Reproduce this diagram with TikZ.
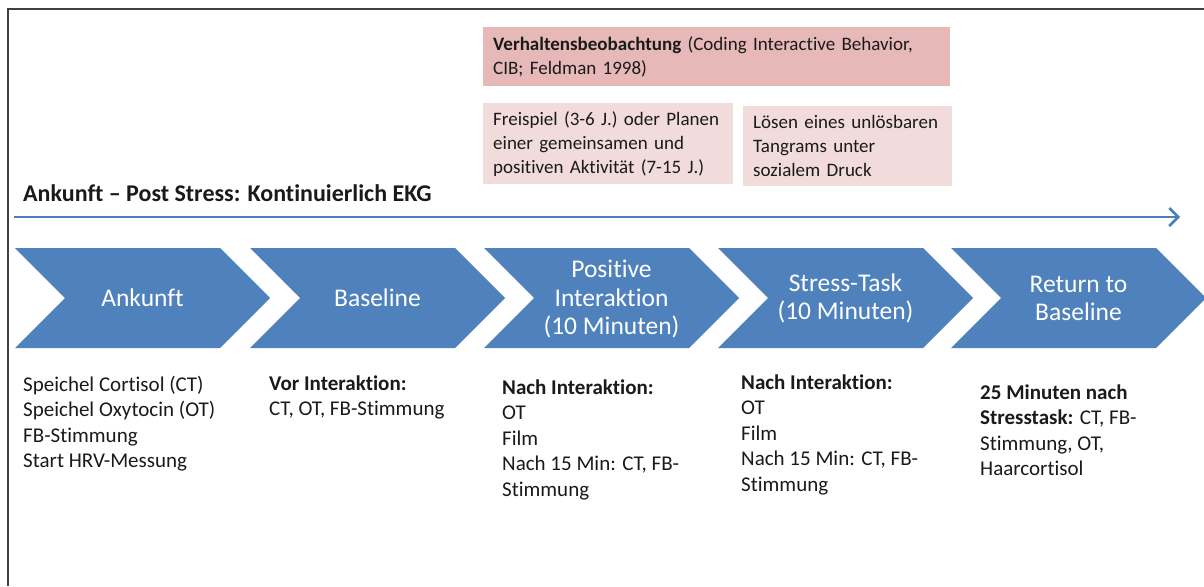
\documentclass[tikz,border=0pt]{standalone}
\usepackage{fontspec}
\setmainfont{Carlito}[RawFeature={-liga}]
\usetikzlibrary{arrows.meta}
\definecolor{chev}{HTML}{4F81BD}
\definecolor{arr}{HTML}{4A7EBB}
\definecolor{pinkA}{HTML}{E6B9B8}
\definecolor{pinkB}{HTML}{F2DCDB}
\definecolor{framec}{HTML}{404040}
\definecolor{txt}{HTML}{1A1A1A}
\begin{document}
\begin{tikzpicture}[x=1pt,y=-1pt,
  chevtext/.style={text=white, align=center, inner sep=0, font=\fontsize{25.5}{28.5}\selectfont},
  boxtext/.style={align=left, inner xsep=10, inner ysep=0, anchor=north west, text=txt, font=\fontsize{19}{24}\selectfont},
  coltext/.style={align=left, inner sep=0, anchor=north west, text=txt, font=\fontsize{21}{25.5}\selectfont}
]
\useasboundingbox (0,0) rectangle (1204,586);
\fill[white] (0,0) rectangle (1204,586);
\draw[framec, line width=2.5] (1204,9) -- (8,9) -- (8,586);

% chevrons
\foreach \L in {15,250,484,718,951}
  \fill[chev] (\L,248) -- ++(205,0) -- ++(50,50) -- ++(-50,50) -- ++(-205,0) -- ++(50,-50) -- cycle;
\node[chevtext] (c1) at (142.5,298) {Ankunft};
\node[chevtext] (c2) at (377.5,298) {Baseline};
\node[chevtext] (c3) at (611.5,299) {Positive\\Interaktion\\(10 Minuten)};
\node[chevtext] (c4) at (845.5,298.5) {Stress-Task\\(10 Minuten)};
\node[chevtext] (c5) at (1078.5,298.5) {Return to\\Baseline};

% title and arrow
\node[anchor=base west, inner sep=0, text=txt, font=\fontsize{24}{28}\selectfont\bfseries] (title) at (23,201) {Ankunft – Post Stress: Kontinuierlich EKG};
\coordinate (as) at (14,217);
\coordinate (ae) at (1180,217);
\draw[arr, line width=2.5, -{Straight Barb[length=9,width=18]}] (as) -- (ae);

% boxes
\node[boxtext, fill=pinkA, text width=447, minimum height=59] (cib) at (483,27)
  {\textbf{Verhaltensbeobachtung} (Coding Interactive Behavior,\\CIB; Feldman 1998)};
\node[boxtext, fill=pinkB, text width=230, minimum height=81] (frei) at (483,103)
  {Freispiel (3-6 J.) oder Planen\\einer gemeinsamen und\\positiven Aktivität (7-15 J.)};
\node[boxtext, fill=pinkB, text width=189, minimum height=80] (tang) at (743,106)
  {Lösen eines unlösbaren\\Tangrams unter\\sozialem Druck};

% columns
\node[coltext] (t1) at (23,373) {\strut Speichel Cortisol (CT)\\Speichel Oxytocin (OT)\\FB-Stimmung\\Start HRV-Messung};
\node[coltext] (t2) at (269,372) {\strut\textbf{Vor Interaktion:}\\CT, OT, FB-Stimmung};
\node[coltext] (t3) at (502,376) {\strut\textbf{Nach Interaktion:}\\OT\\Film\\Nach 15 Min: CT, FB-\\Stimmung};
\node[coltext] (t4) at (741,371) {\strut\textbf{Nach Interaktion:}\\OT\\Film\\Nach 15 Min: CT, FB-\\Stimmung};
\node[coltext] (t5) at (980,381) {\strut\textbf{25 Minuten nach}\\\textbf{Stresstask:} CT, FB-\\Stimmung, OT,\\Haarcortisol};
\end{tikzpicture}
\end{document}
